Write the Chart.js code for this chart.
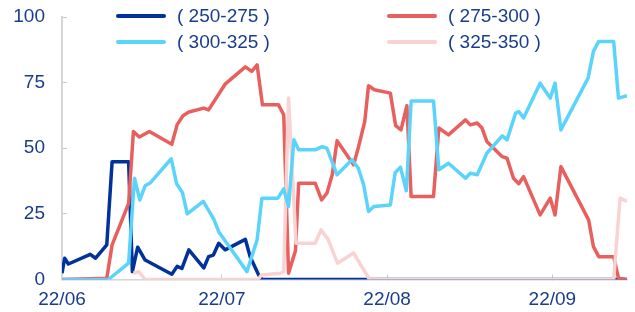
<!DOCTYPE html>
<html>
<head>
<meta charset="utf-8">
<script src="https://cdn.jsdelivr.net/npm/chart.js@4"></script>
<style>
  html, body { margin: 0; padding: 0; background: #fff; }
  #wrap { position: relative; width: 635px; height: 312px; }
  #grafico { display: block; }
  #legend { position: absolute; left: 0; top: 0; width: 635px; height: 60px; font-family: Arial, 'Liberation Sans', sans-serif; font-size: 19px; color: #1a3c8e; }
  .item { position: absolute; display: flex; align-items: center; white-space: nowrap; }
  .swatch { width: 50px; height: 4px; border-radius: 2px; margin-right: 11px; }
</style>
</head>
<body>
<div id="wrap">
  <canvas id="grafico" width="635" height="312"></canvas>
  <div id="legend"></div>
</div>
<script>
// series names and colours
const seriesNames = ['( 250-275 )', '( 275-300 )', '( 300-325 )', '( 325-350 )'];
const seriesColors = ['#00329a', '#e8605e', '#5bd4fb', '#f9d3d3'];

// x = days since 2022-06-01
const tickDays = [0, 30, 61, 92];
const tickLabels = ['22/06', '22/07', '22/08', '22/09'];

// ( 250-275 )
const days250 = [0, 0.5, 1.2, 5.3, 6.3, 8.4, 9.4, 12.5, 13.2, 14.2, 15.6, 20.6, 21.6, 22.5, 23.8, 26.6, 27.5, 28.4, 29.4, 30.6, 34.4, 35.3, 36.9, 37.5, 106];
const vals250 = [2.4, 8.1, 5.9, 9.6, 8.1, 13.2, 44.9, 44.9, 3, 12.3, 7.4, 2, 5, 4.2, 11.3, 4.4, 8.7, 9.3, 13.8, 11.3, 15.3, 8.7, 1.7, 0, 0];

// ( 275-300 )
const days275 = [0, 8.4, 9.4, 12.5, 13.4, 14.5, 16.4, 20.6, 21.6, 22.7, 23.8, 26.6, 27.5, 30.6, 34.4, 35.6, 36.6, 37.6, 40.6, 41.6, 42.5, 43.8, 44.4, 47.5, 48.7, 49.7, 50.7, 51.6, 54.7, 55.6, 56.8, 57.5, 58.6, 61.6, 62.6, 63.6, 64.7, 65.5, 69.7, 70.7, 72.5, 75.7, 76.6, 77.9, 78.8, 79.7, 82.6, 83.5, 84.7, 85.7, 86.6, 89.7, 91.6, 92.5, 93.6, 98.8, 99.7, 100.7, 103.5, 104.4, 106];
const vals275 = [0, 0.5, 13.2, 29, 56.4, 54.3, 56.4, 51.5, 59, 62.4, 63.8, 65.3, 64.6, 74.4, 81, 79.3, 81.8, 66.6, 66.6, 62.7, 2.4, 11, 36.7, 36.7, 30.3, 32.9, 39.9, 52.9, 43.7, 50.3, 60.2, 73.8, 72.3, 71, 58.6, 57, 66.2, 31.6, 31.6, 57.7, 55.1, 60.8, 58.9, 59.6, 57.7, 52.6, 46.8, 46.2, 38.6, 36.5, 39.2, 24.6, 31, 24.6, 43, 22.7, 12.5, 8.7, 8.7, 0.5, 0];

// ( 300-325 )
const days300 = [0, 8.7, 12.5, 13.6, 14.6, 15.6, 16.6, 20.5, 21.5, 22.6, 23.5, 26.5, 28.5, 29.4, 34.7, 36.6, 37.5, 40.5, 41.6, 42.5, 43.5, 44.4, 47.5, 48.8, 49.7, 51.6, 54.4, 55.6, 56.6, 57.5, 58.5, 61.6, 62.5, 63.5, 64.6, 65.5, 69.7, 70.7, 72.5, 75.7, 76.6, 77.9, 79.7, 82.6, 83.5, 84.7, 85.1, 85.7, 86.6, 89.7, 91.6, 92.5, 93.6, 98.7, 99.7, 100.7, 103.5, 104.4, 106];
const vals300 = [0, 0, 6.2, 38.6, 30.3, 35.7, 36.9, 46, 36.5, 33.1, 25, 29.8, 22.9, 18.2, 3, 15.1, 31, 31, 34.5, 27.8, 53.2, 49.4, 49.4, 50.6, 50, 39.9, 45.6, 42.4, 36, 25.9, 27.8, 28.4, 40.7, 42.8, 33.8, 68, 68, 41.8, 44.3, 38.6, 40.5, 39.9, 48.1, 54.7, 53.2, 60.8, 63.4, 64, 61.5, 74.8, 69.1, 74.8, 57, 76.7, 86.9, 90.7, 90.7, 69.1, 70];

// ( 325-350 )
const days325 = [13.4, 14.4, 15.6, 36.8, 37.4, 41, 41.6, 42.5, 43.9, 47.5, 48.6, 49.9, 51.7, 54.7, 57.7, 103.5, 104.7, 106];
const vals325 = [2.4, 3, 0, 0, 1.7, 2.4, 3, 69.1, 13.8, 13.8, 18.9, 15.4, 6.2, 10.1, 0, 0, 31, 29.7];

const allDays = [days250, days275, days300, days325];
const allVals = [vals250, vals275, vals300, vals325];
const drawOrder = [3, 2, 0, 1];

const textColor = '#1a3c8e';
const axisColor = '#d6d6d6';
const fontSpec = { family: "Arial, 'Liberation Sans', sans-serif", size: 19 };

const datasets = seriesNames.map((name, i) => ({
  label: name,
  data: allDays[i].map((d, k) => ({ x: d, y: allVals[i][k] })),
  borderColor: seriesColors[i],
  backgroundColor: seriesColors[i],
  borderWidth: 3.5,
  borderJoinStyle: 'round',
  pointRadius: 0,
  tension: 0,
  fill: false,
  order: drawOrder[i],
}));

new Chart(document.getElementById('grafico'), {
  type: 'line',
  data: { datasets },
  options: {
    responsive: false,
    animation: false,
    layout: { padding: { top: 17, right: 8, left: 0, bottom: 0 } },
    plugins: { legend: { display: false }, tooltip: { enabled: false } },
    scales: {
      x: {
        type: 'linear',
        min: 0,
        max: 106,
        afterBuildTicks: (scale) => { scale.ticks = tickDays.map(v => ({ value: v })); },
        afterFit: (scale) => {
          scale.height = 32.5;
          scale.paddingLeft = 0;
          scale.paddingRight = 0;
        },
        ticks: {
          autoSkip: false,
          maxRotation: 0,
          padding: 14,
          color: textColor,
          font: fontSpec,
          callback: (value) => tickLabels[tickDays.indexOf(value)],
        },
        grid: { drawOnChartArea: false, drawTicks: true, tickLength: -5, color: '#c8c8c8' },
        border: { display: true, color: axisColor, width: 1.5 },
      },
      y: {
        min: 0,
        max: 100,
        afterFit: (scale) => {
          scale.width = 62;
          scale.paddingTop = 0;
          scale.paddingBottom = 0;
        },
        ticks: { stepSize: 25, padding: 22, color: textColor, font: fontSpec },
        grid: { drawOnChartArea: false, drawTicks: true, tickLength: -5, color: '#c8c8c8' },
        border: { display: true, color: axisColor, width: 2 },
      },
    },
  },
});

// legend in two rows, drawn over the plot
const legendPos = [[116, 16], [387, 16], [116, 42], [387, 42]];
const legend = document.getElementById('legend');
seriesNames.forEach((name, i) => {
  const item = document.createElement('div');
  item.className = 'item';
  item.style.left = legendPos[i][0] + 'px';
  item.style.top = (legendPos[i][1] - 11) + 'px';
  item.style.height = '22px';
  item.innerHTML = '<span class="swatch" style="background:' + seriesColors[i] + '"></span><span>' + name + '</span>';
  legend.appendChild(item);
});
</script>
</body>
</html>
